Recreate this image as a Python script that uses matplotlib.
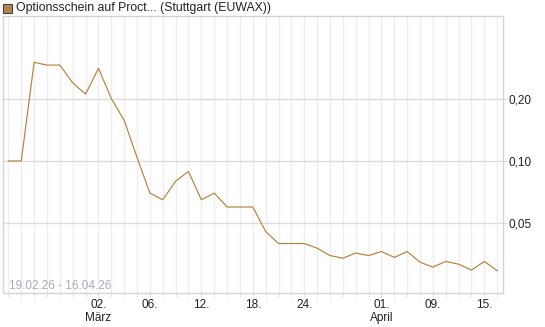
import datetime as dt

import matplotlib
matplotlib.use("Agg")
import matplotlib.pyplot as plt
from matplotlib.patches import Rectangle
from matplotlib.ticker import FixedLocator, NullLocator

# trading days shown in the chart
dates = [
    "19.02.26", "20.02.26", "23.02.26", "24.02.26", "25.02.26", "26.02.26", "27.02.26",
    "02.03.26", "03.03.26", "04.03.26", "05.03.26", "06.03.26",
    "09.03.26", "10.03.26", "11.03.26", "12.03.26", "13.03.26",
    "16.03.26", "17.03.26", "18.03.26", "19.03.26", "20.03.26",
    "23.03.26", "24.03.26", "25.03.26", "26.03.26", "27.03.26",
    "30.03.26", "31.03.26", "01.04.26", "02.04.26",
    "07.04.26", "08.04.26", "09.04.26", "10.04.26",
    "13.04.26", "14.04.26", "15.04.26", "16.04.26",
]
prices = [
    0.100, 0.100, 0.299, 0.290, 0.290, 0.238, 0.210,
    0.280, 0.200, 0.157, 0.104, 0.070,
    0.065, 0.080, 0.089, 0.065, 0.070,
    0.060, 0.060, 0.060, 0.0457, 0.040,
    0.040, 0.040, 0.038, 0.035, 0.034,
    0.036, 0.035, 0.0366, 0.0343,
    0.0366, 0.0325, 0.0308, 0.0328,
    0.0318, 0.0298, 0.0328, 0.0296,
]
tick_dates = ["02.03.26", "06.03.26", "12.03.26", "18.03.26", "24.03.26",
              "01.04.26", "09.04.26", "15.04.26"]
month_names = {3: "März", 4: "April"}
y_ticks = [0.05, 0.10, 0.20]
legend_label = "Optionsschein auf Proct... (Stuttgart (EUWAX))"

plt.rcParams["font.family"] = ["Liberation Sans", "DejaVu Sans"]

days = [dt.datetime.strptime(d, "%d.%m.%y") for d in dates]
idx = list(range(len(days)))

fig = plt.figure(figsize=(5.45, 3.27), dpi=100)
ax = fig.add_axes([3 / 545, 34 / 327, 500 / 545, 277 / 327])

ax.plot(idx, prices, color="#b5823a", lw=0.85, solid_joinstyle="miter")

ax.set_yscale("log")
ax.set_ylim(0.0231, 0.50)
ax.set_xlim(-0.42, len(days) - 1 + 0.45)

ax.yaxis.set_major_locator(FixedLocator(y_ticks))
ax.yaxis.set_minor_locator(NullLocator())
ax.set_yticklabels([f"{v:.2f}".replace(".", ",") for v in y_ticks])
ax.yaxis.tick_right()

# x ticks: labelled days plus a grid line for every trading day
labels = []
pos = []
seen_months = set()
for td in tick_dates:
    d = dt.datetime.strptime(td, "%d.%m.%y")
    i = days.index(d)
    pos.append(i)
    text = d.strftime("%d.")
    if d.month not in seen_months and d.month in month_names and i > 0:
        text += "\n" + month_names[d.month]
    seen_months.add(d.month)
    labels.append(text)
ax.xaxis.set_major_locator(FixedLocator(pos))
ax.set_xticklabels(labels, fontsize=8.5, color="#222222", linespacing=1.1)
ax.xaxis.set_minor_locator(FixedLocator(idx))

ax.grid(True, axis="y", which="major", color="#dddddd", lw=1.0)
ax.grid(True, axis="x", which="both", color="#eeeeee", lw=1.0)
ax.set_axisbelow(True)

ax.tick_params(axis="x", which="both", length=3, color="#dddddd", pad=1.5)
ax.tick_params(axis="y", which="major", length=3, color="#dddddd", pad=1,
               labelsize=8.5, labelcolor="#222222")

for s in ax.spines.values():
    s.set_color("#d4d4d4")
    s.set_linewidth(1.0)

ax.text(0.012, 0.002, f"{dates[0]} - {dates[-1]}", transform=ax.transAxes,
        fontsize=8.5, color="#a3abbb", ha="left", va="bottom")

# legend box above the plot
fig.patches.append(Rectangle((3 / 545, 1 - 13 / 327), 9 / 545, 9 / 327,
                             transform=fig.transFigure, facecolor="#b8864a",
                             edgecolor="#444444", lw=0.8))
fig.text(16 / 545, 1 - 8.5 / 327, legend_label, fontsize=8.8, color="#222222",
         ha="left", va="center")

fig.savefig("out.png", dpi=100)
